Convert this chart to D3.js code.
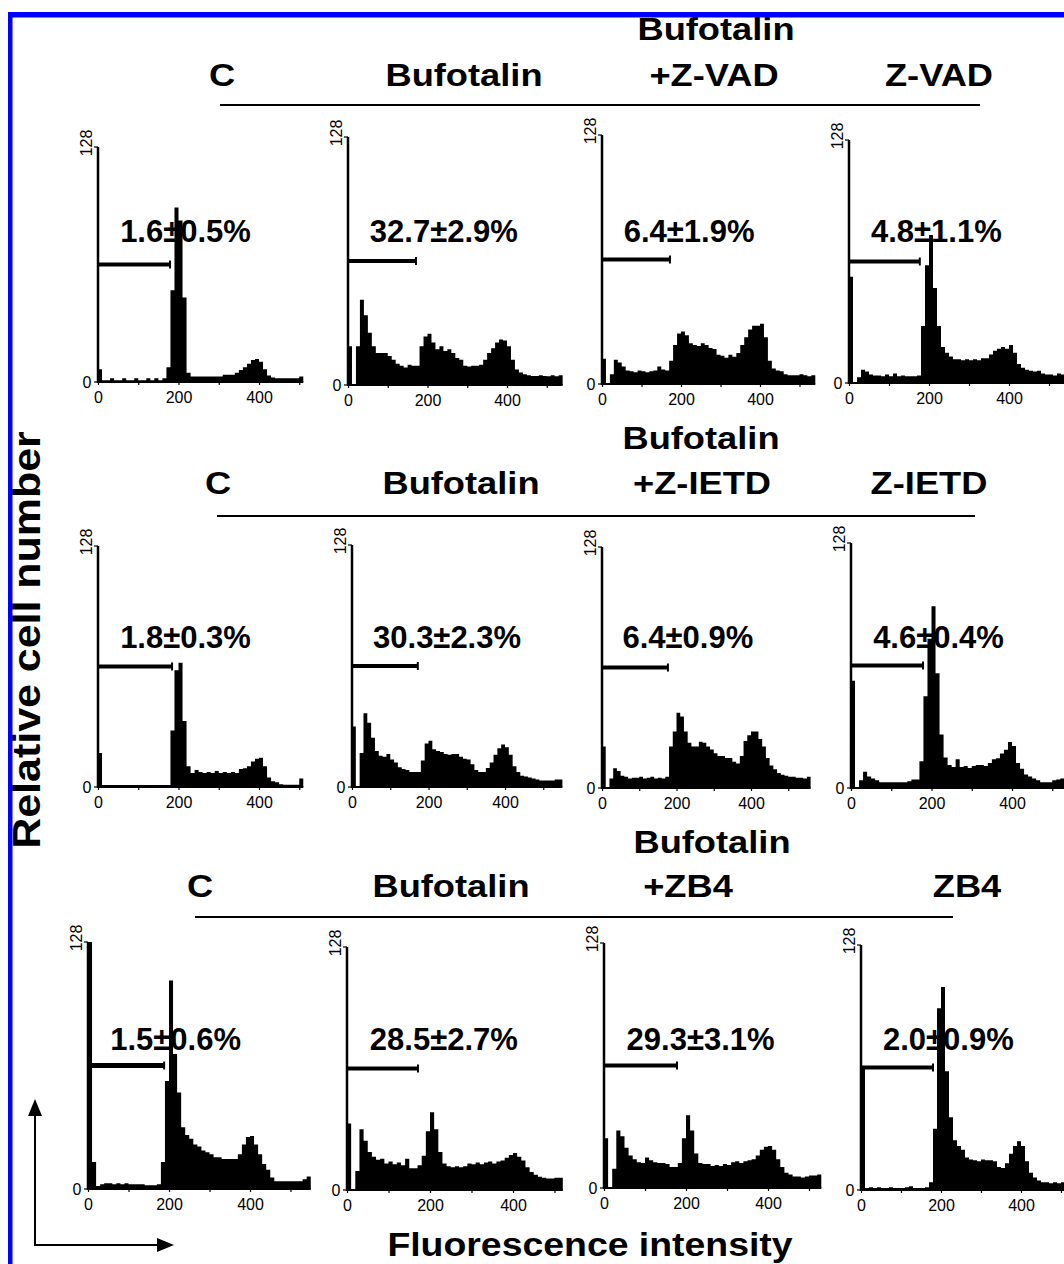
<!DOCTYPE html>
<html>
<head>
<meta charset="utf-8">
<script src="https://cdn.jsdelivr.net/npm/d3@7"></script>
<style>
  body { margin: 0; background: #fff; }
  svg { display: block; font-family: "Liberation Sans", Arial, sans-serif; }
</style>
</head>
<body>
<div id="chart"></div>
<script>
// ---- data ----
const binWidth = 10;               // channels per histogram bin
const xTickLabels = [0, 200, 400];
const xMinorTicks = [0, 100, 200, 300, 400, 500];
const yMax = 128;
const gateLevel = 64;

const headerTexts = [
  ["C", "Bufotalin", ["Bufotalin", "+Z-VAD"], "Z-VAD"],
  ["C", "Bufotalin", ["Bufotalin", "+Z-IETD"], "Z-IETD"],
  ["C", "Bufotalin", ["Bufotalin", "+ZB4"], "ZB4"]
];

const percentLabels = [
  "1.6\u00b10.5%", "32.7\u00b12.9%", "6.4\u00b11.9%", "4.8\u00b11.1%",
  "1.8\u00b10.3%", "30.3\u00b12.3%", "6.4\u00b10.9%", "4.6\u00b10.4%",
  "1.5\u00b10.6%", "28.5\u00b12.7%", "29.3\u00b13.1%", "2.0\u00b10.9%"
];

// right end of the sub-G1 gate marker (channel)
const gateEnds = [179, 171, 172, 177, 184, 172, 177, 179, 188, 171, 178, 180];

// cell counts per 10-channel bin, starting at channel 0
const histVadC = [7, 1, 1, 2, 1, 1, 2, 1, 1, 2, 1, 1, 2, 1, 2, 1, 2, 8, 50, 95, 88, 46, 5,
  3, 3, 3, 3, 3, 3, 3, 3, 4, 4, 4, 5, 6.5, 8, 10, 12, 12.5, 11, 7, 3.5, 2.5, 2, 2, 2, 2, 2, 2, 3];
const histVadBuf = [20, 0, 20, 44, 36, 27, 20, 16.5, 16.5, 16.5, 15, 13, 11, 10, 9, 10.5, 10, 10,
  20, 25, 26.5, 22, 18.5, 20, 17.5, 18.5, 16.5, 14, 13, 10, 9.5, 10, 10, 10.5, 13, 16.5, 19, 22,
  23.5, 23, 20, 13, 8, 6.5, 5.5, 5, 4.7, 4.7, 5, 4.7, 4.5, 5, 4.5, 5];
const histVadBufZ = [13, 0, 5, 12.5, 11, 9, 7, 6.5, 6, 7, 6.5, 6, 6.5, 7, 9, 7.5, 7, 12, 20, 26,
  27, 25, 21, 20, 19.5, 21, 20, 18.5, 18, 15, 14.5, 13.5, 15, 14, 16, 20, 24, 28, 30, 30, 31, 24,
  12, 8, 7, 6.5, 5, 4.5, 4.5, 4.5, 5, 4.5, 4, 4.5];
const histVadZ = [56, 0.5, 3, 7, 6, 4.5, 4, 4, 3.5, 4.5, 3.5, 5, 3.5, 4, 3.5, 3.5, 3.5, 4, 30, 62,
  78, 50, 30, 19, 16, 14, 12.5, 12.5, 12, 12.5, 12, 12.5, 12, 13, 13, 15, 17, 18, 19, 18, 20, 16,
  10, 8, 7, 6.5, 6, 6.5, 5, 4.5, 4.5, 4, 5, 4.5];

const histIetdC = [18, 1, 1, 1, 1, 1, 1, 1, 1, 1, 1, 1, 1, 1, 1, 1, 1, 1, 30, 62, 66, 35, 11, 7.5,
  9, 8, 7.5, 8, 7.5, 8.5, 7.5, 8, 7.5, 8, 7.5, 9.5, 10, 11, 13.5, 15, 15.5, 11, 5, 3, 2.5, 1.5,
  1.2, 1.2, 1.2, 1.2, 4.5];
const histIetdBuf = [32, 0, 18, 39, 34, 26, 19, 16.5, 16, 17.5, 14.5, 13, 10.5, 9.5, 9, 8, 8, 8,
  14, 23, 24.5, 20, 19, 18.5, 17.5, 17, 17.5, 17.5, 16, 15, 14.5, 12, 9, 8, 8, 10, 13, 17, 20.5,
  22.5, 21, 17, 11, 8, 6, 5.5, 5, 4.5, 4, 3.5, 3.5, 3.5, 3.5, 4, 4];
const histIetdBufZ = [22, 0, 5, 10.5, 9, 6.5, 6, 5, 5.5, 5.5, 6, 5, 5.5, 6, 5, 5.5, 5, 6, 22, 30,
  40, 38, 30, 24, 22, 22, 24.5, 24, 22, 20.5, 18.5, 17, 17, 16, 16, 14, 13, 17, 25, 28, 30, 30,
  26, 22, 16, 12, 10, 8, 7, 6.5, 6, 6, 5.5, 5.5, 5, 6];
const histIetdZ = [56, 0.5, 4, 8.5, 6, 5, 4, 3, 3, 3, 3, 3, 3, 3, 3.5, 4.5, 4.5, 14, 48, 78, 95,
  60, 28, 16, 12, 11, 15, 11, 11.5, 10.5, 11.5, 12, 12, 11.5, 13, 15, 15.5, 18, 20, 24, 22, 13,
  10, 7, 6, 5, 4, 3, 3, 3, 4, 4.5, 5, 5];

const histZb4C = [128, 14, 1.5, 2.5, 3, 3, 2.5, 3, 2.5, 3, 2.5, 2.5, 2.5, 2.5, 2, 2, 2, 2.5, 14,
  56, 108, 70, 50, 32, 28, 26, 23, 22, 20, 19, 18, 16.5, 16.5, 15.5, 15.5, 15.5, 15.5, 18, 23, 27,
  27.5, 23, 18, 13, 10, 6, 4, 4, 4, 4, 4, 4, 4, 5, 6.5];
const histZb4Buf = [35, 0, 10, 32, 26, 20, 17.5, 16, 16.5, 14, 15, 13.5, 14.5, 13, 16.5, 11.5,
  11.5, 13, 18, 31, 41, 32, 20, 14, 12.5, 12, 12.5, 12, 12.5, 14, 13.5, 14.5, 13.5, 14.5, 15, 14,
  15, 15.5, 17, 18.5, 19.5, 17.5, 15.5, 12, 9.5, 8, 7, 6.5, 6, 6, 6.5, 6.5];
const histZb4BufZ = [26, 0, 10, 30, 27, 21, 17, 15, 13.5, 13, 16, 14.5, 13.5, 13, 13, 12.5, 11,
  11, 13, 26, 38, 30, 18, 13, 12.5, 12.5, 11.5, 12, 11.5, 12.5, 12, 13.5, 14, 13, 14, 14.5, 15,
  17, 20, 21.5, 22, 20, 15, 11, 8, 7, 6, 6, 5.5, 6, 6.5, 6.5, 7];
const histZb4Z = [64, 1, 1.5, 1, 1.5, 1, 1, 1.5, 1, 1, 1, 1.5, 2, 1, 1, 1, 1.5, 4, 32, 95, 106,
  62, 38, 26, 23, 21, 17, 16, 15.5, 15, 16, 15.5, 15.5, 15, 12, 11.5, 14, 19, 23, 25.5, 23, 15, 9,
  6.5, 5, 4, 4, 3.5, 4, 3.5, 4];

const histograms = [
  histVadC, histVadBuf, histVadBufZ, histVadZ,
  histIetdC, histIetdBuf, histIetdBufZ, histIetdZ,
  histZb4C, histZb4Buf, histZb4BufZ, histZb4Z
];

// ---- layout ----
const W = 1064, H = 1264;
const panelFrames = [
  {x0: 98, x400: 259, base: 382, top: 147},
  {x0: 348, x400: 507, base: 385, top: 137},
  {x0: 602, x400: 760, base: 384, top: 135},
  {x0: 849, x400: 1009, base: 383, top: 140},
  {x0: 98, x400: 259, base: 787, top: 546},
  {x0: 352, x400: 505, base: 787, top: 545},
  {x0: 602, x400: 751, base: 788, top: 547},
  {x0: 851, x400: 1012, base: 788, top: 543},
  {x0: 88, x400: 250, base: 1189, top: 942},
  {x0: 347, x400: 513, base: 1190, top: 947},
  {x0: 604, x400: 768, base: 1188, top: 943},
  {x0: 861, x400: 1021, base: 1190, top: 945}
];
const headerRows = [
  {base: 86, upper: 40, lineY: 105, lineX: [220, 980], cx: [222, 464, 714, 939], upperCx: 716, labelY: 242},
  {base: 494, upper: 449, lineY: 516, lineX: [217, 975], cx: [218, 461, 702, 929], upperCx: 701, labelY: 648},
  {base: 897, upper: 853, lineY: 917, lineX: [195, 953], cx: [200, 451, 688, 967], upperCx: 712, labelY: 1050}
];

const svg = d3.select("#chart").append("svg")
  .attr("width", W).attr("height", H);

svg.append("rect").attr("width", W).attr("height", H).attr("fill", "#fff");

function wideText(parent, x, y, str, size, sx) {
  return parent.append("text")
    .attr("transform", "translate(" + x + "," + y + ") scale(" + sx + ",1)")
    .attr("text-anchor", "middle")
    .attr("font-weight", "bold")
    .attr("font-size", size)
    .attr("fill", "#000")
    .text(str);
}

// column headers and the rule beneath them
headerRows.forEach((row, r) => {
  const g = svg.append("g");
  headerTexts[r].forEach((t, c) => {
    if (Array.isArray(t)) {
      wideText(g, row.upperCx, row.upper, t[0], 31, 1.17);
      wideText(g, row.cx[c], row.base, t[1], 31, 1.17);
    } else {
      wideText(g, row.cx[c], row.base, t, 31, 1.17);
    }
  });
  g.append("line")
    .attr("x1", row.lineX[0]).attr("x2", row.lineX[1])
    .attr("y1", row.lineY).attr("y2", row.lineY)
    .attr("stroke", "#000").attr("stroke-width", 2);
});

// histograms
histograms.forEach((counts, i) => {
  const f = panelFrames[i];
  const row = headerRows[Math.floor(i / 4)];
  const x = d3.scaleLinear().domain([0, 400]).range([f.x0, f.x400]);
  const y = d3.scaleLinear().domain([0, yMax]).range([f.base, f.top]);
  const g = svg.append("g").attr("class", "panel");

  const pts = counts.map((v, j) => ({c: j * binWidth, v: v}));
  pts.push({c: counts.length * binWidth, v: counts[counts.length - 1]});
  const xEnd = counts.length * binWidth;

  const area = d3.area()
    .curve(d3.curveStepAfter)
    .x(d => x(d.c))
    .y0(y(0))
    .y1(d => y(d.v));

  g.append("text")
    .attr("x", x(55)).attr("y", row.labelY)
    .attr("font-weight", "bold").attr("font-size", 31)
    .attr("fill", "#000")
    .text(percentLabels[i]);

  g.append("path").datum(pts)
    .attr("d", area)
    .attr("fill", "#000");

  // baseline and y axis
  g.append("line")
    .attr("x1", x(0)).attr("x2", x(xEnd))
    .attr("y1", y(0)).attr("y2", y(0))
    .attr("stroke", "#000").attr("stroke-width", 2);
  g.append("line")
    .attr("x1", x(0)).attr("x2", x(0))
    .attr("y1", y(0) + 1).attr("y2", y(yMax))
    .attr("stroke", "#000").attr("stroke-width", 2.5);
  [0, yMax].forEach(v => {
    g.append("line")
      .attr("x1", x(0) - 4).attr("x2", x(0))
      .attr("y1", y(v)).attr("y2", y(v))
      .attr("stroke", "#000").attr("stroke-width", 1.2);
  });

  const ax = g.append("g")
    .attr("transform", "translate(0," + y(0) + ")")
    .call(d3.axisBottom(x)
      .tickValues(xMinorTicks.filter(t => t <= xEnd))
      .tickSize(3)
      .tickPadding(7)
      .tickFormat(d => xTickLabels.includes(d) ? d : ""));
  ax.select(".domain").remove();
  ax.selectAll(".tick line").attr("stroke", "#000").attr("stroke-width", 1.2);
  ax.selectAll(".tick text")
    .attr("fill", "#000")
    .attr("font-size", 16)
    .attr("font-family", "'Liberation Sans', Arial, sans-serif");

  g.append("text")
    .attr("x", x(0) - 11).attr("y", y(0))
    .attr("dy", "0.35em")
    .attr("text-anchor", "middle")
    .attr("font-size", 16).attr("fill", "#000")
    .text(0);
  g.append("text")
    .attr("transform", "translate(" + (x(0) - 6) + "," + (y(yMax) - 4) + ") rotate(-90)")
    .attr("text-anchor", "middle")
    .attr("font-size", 16).attr("fill", "#000")
    .text(yMax);

  // sub-G1 gate marker
  g.append("line")
    .attr("x1", x(0)).attr("x2", x(gateEnds[i]))
    .attr("y1", y(gateLevel)).attr("y2", y(gateLevel))
    .attr("stroke", "#000").attr("stroke-width", i === 8 ? 5 : 4);
  g.append("line")
    .attr("x1", x(gateEnds[i])).attr("x2", x(gateEnds[i]))
    .attr("y1", y(gateLevel) - 4).attr("y2", y(gateLevel) + 4)
    .attr("stroke", "#000").attr("stroke-width", 2);
});

// axis titles
svg.append("text")
  .attr("transform", "translate(40,640) rotate(-90) scale(1.13,1)")
  .attr("text-anchor", "middle")
  .attr("font-weight", "bold").attr("font-size", 38)
  .attr("fill", "#000")
  .text("Relative cell number");

wideText(svg, 590, 1256, "Fluorescence intensity", 34, 1.1);

// direction arrows, bottom left
const arrows = svg.append("g");
arrows.append("line").attr("x1", 35).attr("y1", 1245).attr("x2", 35).attr("y2", 1112)
  .attr("stroke", "#000").attr("stroke-width", 2);
arrows.append("line").attr("x1", 34).attr("y1", 1245).attr("x2", 160).attr("y2", 1245)
  .attr("stroke", "#000").attr("stroke-width", 2);
arrows.append("path").attr("d", "M35,1099 L28,1116 L42,1116 Z").attr("fill", "#000");
arrows.append("path").attr("d", "M174,1245 L157,1238 L157,1252 Z").attr("fill", "#000");

// blue frame edge
svg.append("rect").attr("x", 8).attr("y", 12).attr("width", W - 8).attr("height", 5.5).attr("fill", "#0000ff");
svg.append("rect").attr("x", 8).attr("y", 12).attr("width", 4.5).attr("height", H - 12).attr("fill", "#0000ff");
</script>
</body>
</html>
